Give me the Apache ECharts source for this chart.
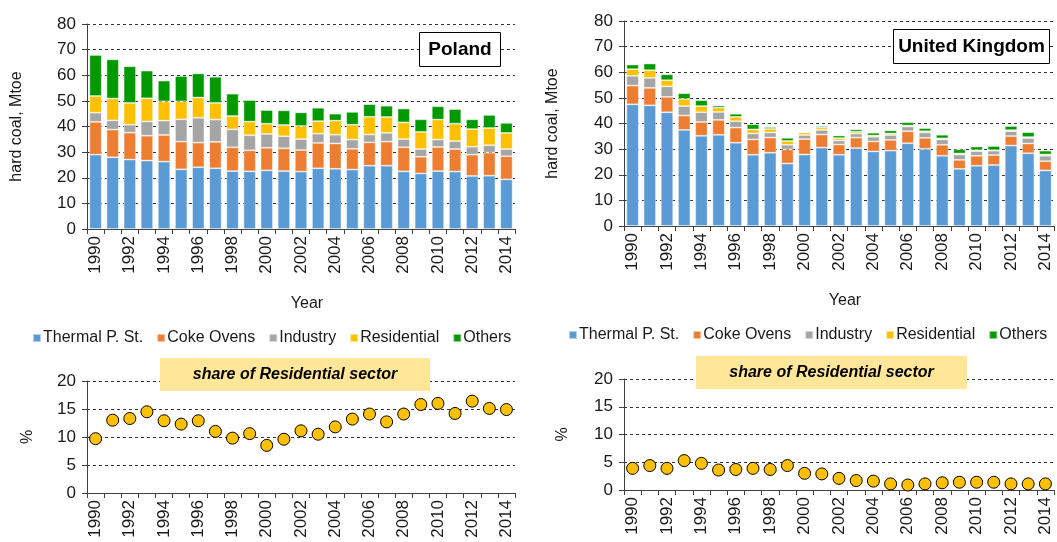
<!DOCTYPE html>
<html>
<head>
<meta charset="utf-8">
<script src="https://cdn.jsdelivr.net/npm/echarts@6/dist/echarts.min.js"></script>
<style>
  html, body { margin: 0; padding: 0; background: #fff; }
  #chart { width: 1057px; height: 542px; }
</style>
</head>
<body>
<div id="chart"></div>
<script>
// years on the category axes
var years = ['1990','1991','1992','1993','1994','1995','1996','1997','1998','1999','2000','2001','2002',
             '2003','2004','2005','2006','2007','2008','2009','2010','2011','2012','2013','2014'];
var sectorNames = ['Thermal P. St.', 'Coke Ovens', 'Industry', 'Residential', 'Others'];
var sectorColors = ['#5B9BD5', '#ED7D31', '#A5A5A5', '#FFC000', '#009A00'];

// Poland, hard coal by sector, Mtoe
var plThermal     = [29.0,28.0,27.1,26.7,26.3,23.3,24.1,23.7,22.6,22.5,22.9,22.6,22.4,23.7,23.5,23.2,24.7,24.7,22.5,21.7,22.6,22.4,20.7,20.8,19.4];
var plCoke        = [12.8,10.8,10.5, 9.7,10.4,10.8, 9.6,10.3, 9.3, 8.2, 8.8, 8.9, 8.4, 9.9, 9.9, 8.1, 9.1, 9.4, 9.4, 6.5, 9.4, 8.8, 8.3, 9.0, 9.0];
var plIndustry    = [ 3.6, 3.6, 3.1, 5.6, 5.6, 8.7, 9.7, 8.7, 7.0, 5.9, 5.4, 4.7, 4.3, 3.6, 3.4, 3.6, 3.1, 3.4, 3.2, 3.0, 2.9, 3.1, 3.1, 2.9, 2.8];
var plResidential = [ 6.5, 8.5, 8.5, 9.0, 7.5, 7.0, 7.9, 6.5, 5.2, 5.3, 4.0, 4.4, 5.1, 4.9, 5.5, 5.8, 6.9, 6.2, 6.5, 6.7, 7.8, 6.8, 6.9, 6.7, 6.3];
var plOthers      = [16.0,15.3,14.3,10.8, 8.1, 9.9, 9.4,10.2, 8.7, 8.4, 5.3, 5.7, 5.3, 5.2, 2.7, 5.0, 4.9, 4.4, 5.4, 4.9, 5.2, 5.7, 3.8, 5.1, 3.9];

// United Kingdom, hard coal by sector, Mtoe
var ukThermal     = [47.5,47.1,44.4,37.5,35.2,35.6,32.5,27.8,28.6,24.4,27.9,30.6,27.8,30.4,29.1,29.4,32.3,30.1,27.4,22.3,23.5,23.8,31.4,28.4,21.7];
var ukCoke        = [ 7.3, 6.8, 6.0, 5.6, 5.4, 5.8, 5.9, 6.0, 5.9, 5.5, 6.0, 5.1, 4.0, 4.1, 3.9, 4.2, 4.7, 4.3, 4.3, 3.5, 3.9, 3.9, 3.7, 3.8, 3.6];
var ukIndustry    = [ 3.8, 3.9, 4.1, 3.7, 3.8, 3.1, 2.5, 2.3, 2.0, 1.8, 1.6, 1.8, 1.6, 1.6, 1.8, 1.9, 1.8, 2.1, 2.1, 2.1, 1.8, 1.7, 1.9, 2.1, 2.1];
var ukResidential = [ 2.6, 3.0, 2.4, 2.8, 2.4, 1.7, 1.7, 1.6, 1.4, 1.5, 1.0, 0.9, 0.9, 0.7, 0.5, 0.6, 0.4, 0.5, 0.4, 0.4, 0.4, 0.2, 0.4, 0.4, 0.5];
var ukOthers      = [ 1.8, 2.6, 2.3, 2.2, 2.3, 0.8, 1.2, 2.0, 0.7, 1.2, 0.2, 0.6, 1.0, 0.9, 1.1, 1.2, 1.3, 1.2, 1.4, 1.6, 1.4, 1.6, 1.6, 1.9, 1.5];

// share of Residential sector, %
var plShare = [9.7,13.0,13.3,14.5,12.9,12.3,12.9,11.0,9.8,10.6,8.5,9.6,11.1,10.5,11.8,13.2,14.1,12.7,14.1,15.8,16.0,14.2,16.4,15.1,14.9];
var ukShare = [3.9,4.4,3.9,5.3,4.8,3.6,3.7,3.9,3.7,4.4,3.0,2.9,2.1,1.7,1.6,1.1,0.9,1.1,1.3,1.4,1.4,1.4,1.1,1.1,1.1];

var fontFamily = '"Liberation Sans", Arial, sans-serif';
var textColor = '#1a1a1a';

function catAxis(gridIndex, withName){
  var ax = {
    type: 'category',
    gridIndex: gridIndex,
    data: years,
    boundaryGap: true,
    axisLine: { lineStyle: { color: '#404040', width: 1 } },
    axisTick: { show: true, interval: 0, length: 5, lineStyle: { color: '#404040' } },
    axisLabel: { interval: 1, rotate: 90, margin: 7, fontSize: 17, color: textColor, fontFamily: fontFamily },
    splitLine: { show: false }
  };
  if (withName) {
    ax.name = 'Year';
    ax.nameLocation = 'middle';
    ax.nameGap = 67;
    ax.nameTextStyle = { fontSize: 16, color: textColor, fontFamily: fontFamily, padding: [0, 0, 0, 12] };
  }
  return ax;
}
function valAxis(gridIndex, max, interval, name, nameGap){
  return {
    type: 'value',
    gridIndex: gridIndex,
    min: 0,
    max: max,
    interval: interval,
    name: name,
    nameLocation: 'middle',
    nameGap: nameGap,
    nameTextStyle: { fontSize: 16, color: textColor, fontFamily: fontFamily },
    axisLine: { show: true, lineStyle: { color: '#404040', width: 1 } },
    axisTick: { show: true, length: 5, lineStyle: { color: '#404040' } },
    axisLabel: { fontSize: 17, margin: 11, color: textColor, fontFamily: fontFamily },
    splitLine: { show: true, lineStyle: { color: '#333', type: [3, 3], width: 1 } }
  };
}

function barSeries(stack, xi, values){
  return values.map(function(data, i){
    return {
      name: sectorNames[i],
      type: 'bar',
      stack: stack,
      xAxisIndex: xi,
      yAxisIndex: xi,
      barCategoryGap: '28%',
      data: data,
      itemStyle: { color: sectorColors[i], borderColor: 'rgba(255,255,255,0.55)', borderWidth: 0.8 }
    };
  });
}
function shareSeries(name, xi, data){
  return {
    name: name,
    type: 'scatter',
    xAxisIndex: xi,
    yAxisIndex: xi,
    symbol: 'circle',
    symbolSize: 12,
    data: data,
    itemStyle: { color: '#FFC000', borderColor: '#000', borderWidth: 1, opacity: 1 }
  };
}
function legendAt(left, top){
  return {
    left: left,
    top: top,
    padding: 0,
    icon: 'rect',
    itemWidth: 8,
    itemHeight: 8,
    itemGap: 13,
    textStyle: { fontSize: 16, color: textColor, fontFamily: fontFamily, padding: [0, 0, 0, -3] },
    data: sectorNames
  };
}
function boxLabel(x, y, w, h, text, style){
  return {
    type: 'group',
    children: [
      { type: 'rect', z: 100, shape: { x: x, y: y, width: w, height: h },
        style: style.box },
      { type: 'text', z: 101, x: x + w / 2, y: y + h / 2,
        style: { text: text, align: 'center', verticalAlign: 'middle', fill: '#000',
                 font: style.font } }
    ]
  };
}
var titleBox = { box: { fill: '#fff', stroke: '#000', lineWidth: 1 }, font: 'bold 19px ' + fontFamily };
var shareBox = { box: { fill: '#FFE699' }, font: 'italic bold 16px ' + fontFamily };

var option = {
  animation: false,
  backgroundColor: '#fff',
  textStyle: { fontFamily: fontFamily },
  grid: [
    { left: 87, top: 24, width: 428, height: 205 },
    { left: 624, top: 21, width: 430, height: 205 },
    { left: 87, top: 381, width: 428, height: 112 },
    { left: 624, top: 379, width: 430, height: 111 }
  ],
  legend: [ legendAt(32, 330), legendAt(568, 327) ],
  xAxis: [ catAxis(0, true), catAxis(1, true), catAxis(2, false), catAxis(3, false) ],
  yAxis: [
    valAxis(0, 80, 10, 'hard coal, Mtoe', 62),
    valAxis(1, 80, 10, 'hard coal, Mtoe', 63),
    valAxis(2, 20, 5, '%', 51),
    valAxis(3, 20, 5, '%', 53)
  ],
  series: []
    .concat(barSeries('pl', 0, [plThermal, plCoke, plIndustry, plResidential, plOthers]))
    .concat(barSeries('uk', 1, [ukThermal, ukCoke, ukIndustry, ukResidential, ukOthers]))
    .concat([ shareSeries('share PL', 2, plShare), shareSeries('share UK', 3, ukShare) ]),
  graphic: [
    boxLabel(419.5, 32.5, 81, 34, 'Poland', titleBox),
    boxLabel(893.5, 29.5, 156, 34, 'United Kingdom', titleBox),
    boxLabel(160, 358, 270, 33, 'share of Residential sector', shareBox),
    boxLabel(696, 356, 271, 33, 'share of Residential sector', shareBox)
  ]
};

var chart = echarts.init(document.getElementById('chart'), null, { renderer: 'canvas' });
chart.setOption(option);
</script>
</body>
</html>
